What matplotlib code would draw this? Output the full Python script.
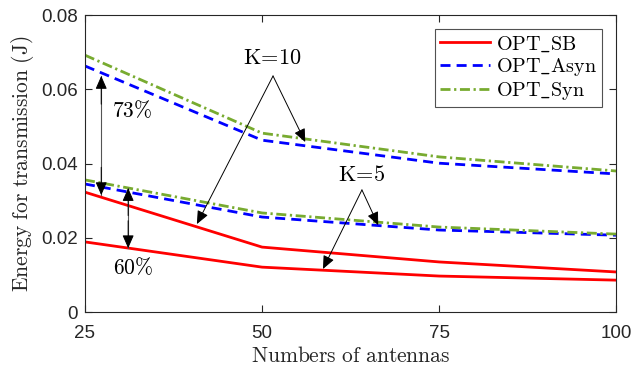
import matplotlib
matplotlib.use("Agg")
import matplotlib.pyplot as plt

plt.rcParams['mathtext.fontset'] = 'cm'
plt.rcParams['font.family'] = ['Liberation Sans', 'DejaVu Sans']

antennas = [25, 50, 75, 100]
sb_k10 = [0.0323, 0.0175, 0.0135, 0.0108]
sb_k5 = [0.0189, 0.0121, 0.0097, 0.0086]
asyn_k10 = [0.0663, 0.0463, 0.0401, 0.0372]
asyn_k5 = [0.0345, 0.0256, 0.0221, 0.0207]
syn_k10 = [0.0692, 0.0482, 0.0418, 0.0380]
syn_k5 = [0.0356, 0.0267, 0.0229, 0.0210]

xticks = [25, 50, 75, 100]
yticks = [0, 0.02, 0.04, 0.06, 0.08]
ytick_labels = ['0', '0.02', '0.04', '0.06', '0.08']

red = (1, 0, 0)
blue = (0, 0, 1)
green = (0.47, 0.67, 0.19)
lw = 2.0
dash = (0, (3.6, 2.2))
dashdot = (0, (3.6, 1.3, 0.8, 1.3))

fig = plt.figure(figsize=(6.34, 3.68), dpi=100)
ax = fig.add_axes([0.134, 0.152, 0.838, 0.807])

ax.plot(antennas, sb_k10, color=red, lw=lw, label=r'$\mathrm{OPT\_SB}$')
ax.plot(antennas, asyn_k10, color=blue, lw=lw, ls=dash, label=r'$\mathrm{OPT\_Asyn}$')
ax.plot(antennas, syn_k10, color=green, lw=lw, ls=dashdot, label=r'$\mathrm{OPT\_Syn}$')
ax.plot(antennas, sb_k5, color=red, lw=lw)
ax.plot(antennas, asyn_k5, color=blue, lw=lw, ls=dash)
ax.plot(antennas, syn_k5, color=green, lw=lw, ls=dashdot)

ax.set_xlim(25, 100)
ax.set_ylim(0, 0.08)
ax.set_xticks(xticks)
ax.set_xticklabels([str(t) for t in xticks])
ax.set_yticks(yticks)
ax.set_yticklabels(ytick_labels)
ax.tick_params(direction='in', top=True, right=True, labelsize=13.5, colors='#262626', length=5, width=0.8)
ax.tick_params(axis='x', pad=9)
ax.tick_params(axis='y', pad=5)
for lab in ax.get_xticklabels() + ax.get_yticklabels():
    lab.set_family(['Liberation Sans', 'DejaVu Sans'])
for s in ax.spines.values():
    s.set_color('#262626')
    s.set_linewidth(0.8)

ax.set_xlabel(r'$\mathrm{Numbers\ of\ antennas}$', fontsize=15.5, color='#262626', labelpad=3)
ax.set_ylabel(r'$\mathrm{Energy\ for\ transmission\ (J)}$', fontsize=15.5, color='#262626', labelpad=4)

leg = ax.legend(loc='upper right', fontsize=14.5, frameon=True, fancybox=False,
                edgecolor='#262626', handlelength=2.5, handletextpad=0.3,
                borderpad=0.25, labelspacing=0.1, borderaxespad=0.7)
leg.get_frame().set_linewidth(0.8)

akw = dict(arrowstyle='-|>,head_length=0.8,head_width=0.35', color='black', lw=0.7, shrinkA=0, shrinkB=0)
# K=10
ax.text(51.55, 0.0682, r'$\mathrm{K\!=\!10}$', fontsize=16, ha='center', va='center')
ax.annotate('', xy=(40.8, 0.0237), xytext=(51.55, 0.0636), arrowprops=akw)
ax.annotate('', xy=(56.1, 0.0458), xytext=(51.55, 0.0636), arrowprops=akw)
# K=5
ax.text(64.1, 0.0368, r'$\mathrm{K\!=\!5}$', fontsize=16, ha='center', va='center')
ax.annotate('', xy=(58.6, 0.0116), xytext=(64.1, 0.0329), arrowprops=akw)
ax.annotate('', xy=(66.4, 0.0234), xytext=(64.1, 0.0329), arrowprops=akw)
# double arrows: gray shaft, black heads
ax.plot([27.3, 27.3], [0.0315, 0.0636], color='#555555', lw=0.8)
ax.plot([31.1, 31.1], [0.0172, 0.0334], color='#555555', lw=0.8)
hkw = dict(arrowstyle='-|>,head_length=0.8,head_width=0.35', color='black', lw=0.7, shrinkA=0, shrinkB=0)
ax.annotate('', xy=(27.3, 0.0636), xytext=(27.3, 0.0560), arrowprops=hkw)
ax.annotate('', xy=(27.3, 0.0315), xytext=(27.3, 0.0390), arrowprops=hkw)
ax.annotate('', xy=(31.1, 0.0334), xytext=(31.1, 0.0260), arrowprops=hkw)
ax.annotate('', xy=(31.1, 0.0172), xytext=(31.1, 0.0246), arrowprops=hkw)
ax.text(31.6, 0.054, r'$73\%$', fontsize=15.5, ha='center', va='center')
ax.text(31.8, 0.0118, r'$60\%$', fontsize=15.5, ha='center', va='center')

fig.savefig('out.png', dpi=100)
